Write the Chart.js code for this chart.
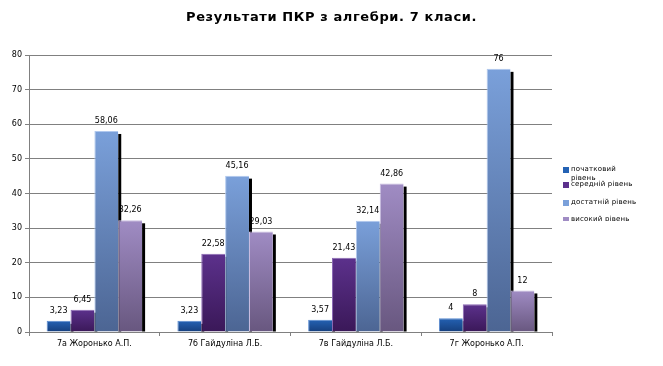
<!DOCTYPE html>
<html>
<head>
<meta charset="utf-8">
<script src="https://cdn.jsdelivr.net/npm/chart.js@4"></script>
<style>
  body { margin: 0; background: #fff; }
  #wrap { position: relative; width: 663px; height: 366px; font-family: "DejaVu Sans", sans-serif; }
  #title { position: absolute; left: 0; top: 9px; width: 663px; text-align: center; font-size: 13px; font-weight: bold; letter-spacing: 0.6px; color: #000; }
  #legend { position: absolute; left: 562px; top: 160px; width: 100px; height: 61px; overflow: hidden; font-size: 7px; color: #000; }
  .lg { position: absolute; left: 0; line-height: 9px; white-space: nowrap; letter-spacing: 0.2px; }
  .lg i { position: absolute; left: 1px; top: 2px; width: 6px; height: 6px; }
  .lg span { display: block; padding-left: 9px; }
</style>
</head>
<body>
<div id="wrap">
  <canvas id="c" width="663" height="366"></canvas>
  <div id="title">Результати ПКР з алгебри. 7 класи.</div>
  <div id="legend"></div>
</div>
<script>
/* Результати ПКР з алгебри – grouped bars with shadow + value labels */
const classes = ['7а Жоронько А.П.', '7б Гайдуліна Л.Б.', '7в Гайдуліна Л.Б.', '7г Жоронько А.П.'];
const levels = ['початковий рівень', 'середній рівень', 'достатній рівень', 'високий рівень'];
const initialLvl = [3.23, 3.23, 3.57, 4];
const middleLvl = [6.45, 22.58, 21.43, 8];
const sufficientLvl = [58.06, 45.16, 32.14, 76];
const highLvl = [32.26, 29.03, 42.86, 12];
const yTicks = [0, 10, 20, 30, 40, 50, 60, 70, 80];

// top / bottom / edge colours per series
const pal = [
    ['#2462b4', '#153e7c', '#5a8ad0'],
    ['#5c318c', '#3a1858', '#8a68b4'],
    ['#7aa0da', '#4c6593', '#b0c8ee'],
    ['#a08cc4', '#68577f', '#c8bce0'],
];
const series = [initialLvl, middleLvl, sufficientLvl, highLvl];

function grad(i) {
    return ctx => {
        const ch = ctx.chart;
        if (!ch.chartArea || ctx.type !== 'data') return pal[i][0];
        const y = ch.scales.y.getPixelForValue(ctx.raw);
        const b = ch.scales.y.getPixelForValue(0);
        const g = ch.ctx.createLinearGradient(0, y, 0, b);
        g.addColorStop(0, pal[i][0]);
        g.addColorStop(1, pal[i][1]);
        return g;
    };
}

// black shadow on the right of every bar, drawn under all bars
const barShadow = {
    id: 'barShadow',
    beforeDatasetsDraw(chart) {
        const c = chart.ctx;
        c.save();
        c.fillStyle = '#000';
        chart.data.datasets.forEach((ds, di) => {
            chart.getDatasetMeta(di).data.forEach(el => {
                const p = el.getProps(['x', 'y', 'base', 'width'], true);
                c.fillRect(p.x + p.width / 2, p.y + 3, 3, p.base - p.y - 3);
            });
        });
        c.restore();
    }
};

const valueLabels = {
    id: 'valueLabels',
    afterDatasetsDraw(chart) {
        const c = chart.ctx;
        c.save();
        c.font = '8px "DejaVu Sans"';
        c.fillStyle = '#000';
        c.textAlign = 'center';
        c.textBaseline = 'middle';
        chart.data.datasets.forEach((ds, di) => {
            chart.getDatasetMeta(di).data.forEach((el, i) => {
                c.fillText(String(ds.data[i]).replace('.', ','), el.x, el.y - 10);
            });
        });
        c.restore();
    }
};

new Chart(document.getElementById('c'), {
    type: 'bar',
    data: {
        labels: classes,
        datasets: series.map((d, i) => ({
            label: levels[i],
            data: d,
            backgroundColor: grad(i),
            borderColor: pal[i][2],
            borderWidth: { top: 1, left: 1, right: 0, bottom: 0 },
            borderSkipped: 'start',
            categoryPercentage: 0.73,
            barPercentage: 1,
        }))
    },
    options: {
        responsive: false,
        animation: false,
        devicePixelRatio: 1,
        layout: { padding: { left: 0, right: 111, top: 55, bottom: 0 } },
        plugins: {
            legend: { display: false },
            tooltip: { enabled: false },
        },
        scales: {
            x: {
                grid: { offset: true, drawOnChartArea: false, drawTicks: true, tickLength: 4, color: '#808080' },
                border: { color: '#808080' },
                ticks: { color: '#000', font: { family: 'DejaVu Sans', size: 8 }, padding: 3, maxRotation: 0 },
                afterFit: s => { s.height = 34; },
            },
            y: {
                min: 0, max: 80,
                afterBuildTicks: s => { s.ticks = yTicks.map(v => ({ value: v })); },
                grid: { color: '#808080', tickLength: 4 },
                border: { color: '#808080' },
                ticks: { color: '#000', font: { family: 'DejaVu Sans', size: 8 }, padding: 3 },
                afterFit: s => { s.width = 29; },
            },
        },
    },
    plugins: [barShadow, valueLabels],
});

// legend (right side, clipped like the original)
const lgTops = [164.5, 179.5, 197.5, 214.5];
document.getElementById('legend').innerHTML = levels.map((l, i) => {
    const txt = i === 0 ? l.replace(' ', '<br>') : l;
    return `<div class="lg" style="top:${lgTops[i] - 160}px"><i style="background:${pal[i][0]}"></i><span>${txt}</span></div>`;
}).join('');
</script>
</body>
</html>
